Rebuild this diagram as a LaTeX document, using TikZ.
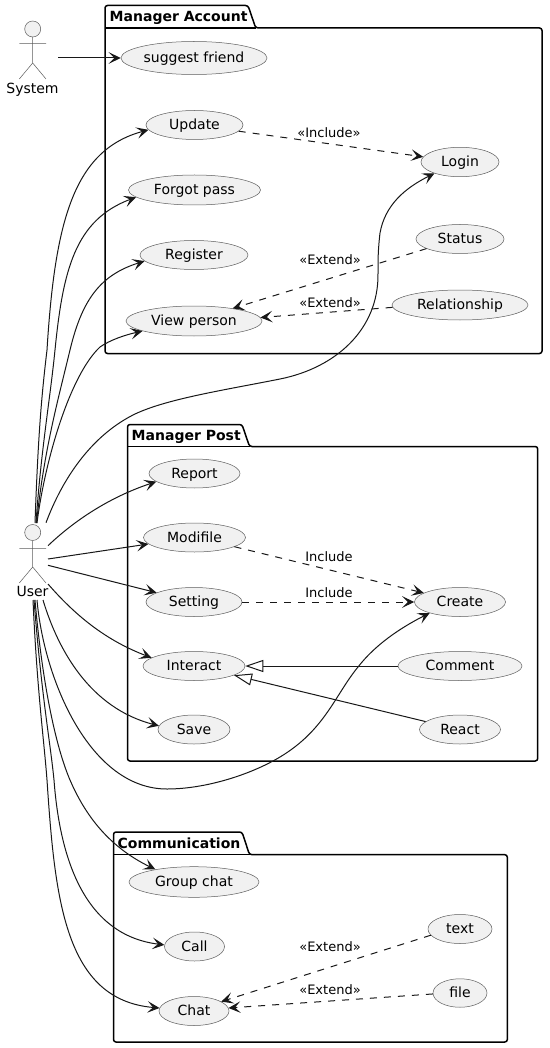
\documentclass[tikz,border=0pt]{standalone}
\usepackage{fontspec}
\setmainfont{DejaVu Sans}
\usetikzlibrary{arrows.meta,shapes.geometric}
\definecolor{ink}{HTML}{181818}
\definecolor{ucfill}{HTML}{F1F1F1}
\tikzset{
  x=1pt,y=-1pt,
  uc/.style 2 args={draw=ink!70,line width=0.5pt,fill=ucfill,shape=ellipse,inner sep=0pt,minimum width=#1pt,minimum height=#2pt,text height=12.6pt,text depth=3pt,font=\fontsize{14}{16}\selectfont},
  pkg/.style={draw=black,line width=1.5pt,rounded corners=2.5pt},
  pkgname/.style={anchor=base west,inner sep=0pt,font=\fontsize{14}{16}\selectfont\bfseries},
  lbl/.style={inner sep=0pt,font=\fontsize{13}{15}\selectfont,text height=11.5pt,text depth=3pt},
  actorname/.style={inner sep=0pt,font=\fontsize{14}{16}\selectfont,text height=12.6pt,text depth=3pt},
  head/.style={draw=ink!70,line width=0.5pt,fill=ucfill,circle,minimum size=16pt,inner sep=0pt},
  limb/.style={draw=ink!70,line width=0.5pt},
  arr/.style={draw=ink,line width=1pt,-{Stealth[length=12pt,width=11.5pt,inset=5.5pt]}},
  dep/.style={draw=ink,line width=1pt,dash pattern=on 7pt off 7pt,-{Stealth[length=12pt,width=11.5pt,inset=5.5pt]}},
  isa/.style={draw=ink,line width=1pt,-{Triangle[open,length=18pt,width=12pt,fill=white]}}
}
\begin{document}
\begin{tikzpicture}
\useasboundingbox[fill=white] (0,0) rectangle (549,1048);
% packages
\draw[pkg] (105,28) -- (105,5.5) -- (248,5.5) -- (255.7,28) -- (542,28) -- (542,353.5) -- (105,353.5) -- cycle;
\draw[line width=1.5pt] (105,28) -- (255.7,28);
\node[pkgname] (pa) at (109.5,21.5) {Manager Account};
\draw[pkg] (127.5,446.5) -- (127.5,424.5) -- (242,424.5) -- (249.5,446.5) -- (537.7,446.5) -- (537.7,761) -- (127.5,761) -- cycle;
\draw[line width=1.5pt] (127.5,446.5) -- (249.5,446.5);
\node[pkgname] (pb) at (131.5,440.5) {Manager Post};
\draw[pkg] (113.5,854.7) -- (113.5,832) -- (242,832) -- (249.5,854.7) -- (507.3,854.7) -- (507.3,1042) -- (113.5,1042) -- cycle;
\draw[line width=1.5pt] (113.5,854.7) -- (249.5,854.7);
\node[pkgname] (pc) at (117.5,848.5) {Communication};
% use cases
\node[uc={146}{33}] (suggest) at (194,58) {suggest friend};
\node[uc={97}{29}] (update) at (194.5,125) {Update};
\node[uc={132}{30}] (forgot) at (194.5,190) {Forgot pass};
\node[uc={108}{29}] (register) at (194,255) {Register};
\node[uc={136}{30}] (view) at (194,321) {View person};
\node[uc={78}{29.4}] (login) at (460,162) {Login};
\node[uc={88}{29}] (status) at (460,239) {Status};
\node[uc={136}{30}] (relation) at (460,305) {Relationship};
\node[uc={91}{29}] (report) at (194.5,473.5) {Report};
\node[uc={102}{29}] (modifile) at (194.5,537.5) {Modifile};
\node[uc={96}{29}] (setting) at (194,602) {Setting};
\node[uc={102}{29}] (interact) at (194,666) {Interact};
\node[uc={72}{29}] (save) at (194,729.5) {Save};
\node[uc={91}{29}] (create) at (460,602) {Create};
\node[uc={124}{29}] (comment) at (460,666) {Comment};
\node[uc={81}{29}] (react) at (460,729.5) {React};
\node[uc={130}{30.6}] (group) at (194,882) {Group chat};
\node[uc={60}{29}] (call) at (194.5,946.5) {Call};
\node[uc={70}{29}] (chat) at (194,1011) {Chat};
\node[uc={64}{29}] (text) at (460,929) {text};
\node[uc={54}{28.5}] (file) at (460,993) {file};
% actors
\node[head] (syshead) at (32.7,29) {};
\draw[limb] (syshead.south) -- (32.7,63) -- (19.3,79) (32.7,63) -- (46,79) (19.3,43.7) -- (46,43.7);
\node[actorname] (system) at (32.5,88.5) {System};
\node[head] (userhead) at (32.7,532.5) {};
\draw[limb] (userhead.south) -- (32.7,567) -- (19.3,583) (32.7,567) -- (46,583) (19.3,548.3) -- (46,548.3);
\node[actorname] (user) at (32.5,592) {User};
% free ends at the actors
\coordinate (sysout) at (58,58);
\foreach \n/\px/\py in {ua/35/523,ub/36/523,uc/36.5/523,ud/37/523,ue/46/522.7,uf/48/545.7,ug/48/559,uh/48/565.3,ui/48/584,uj/43/600,uk/37/600,ul/35/600,um/34/600,un/33/600}
  \coordinate (\n) at (\px,\py);
% solid associations
\draw[arr] (sysout) -- (suggest);
\draw[arr] (ua) .. controls (38,440) and (41,400) .. (47,350) .. controls (55,220) and (74,150) .. (update.186);
\draw[arr] (ub) .. controls (41,450) and (50,400) .. (55,350) .. controls (63,270) and (75,220) .. (forgot.187);
\draw[arr] (uc) .. controls (44,450) and (58,400) .. (70,350) .. controls (82,300) and (100,275) .. (register.187);
\draw[arr] (ud) .. controls (45,460) and (70,375) .. (100,347) .. controls (110,340) and (125,335) .. (view.191);
\draw[arr] (ue) .. controls (62,480) and (90,437) .. (133,415) .. controls (165,399) and (225,390) .. (280,379) .. controls (335,368) and (379,330) .. (378,273) .. controls (378,260) and (378,250) .. (380,233) .. controls (385,205) and (405,188) .. (login.204);
\draw[arr] (uf) .. controls (75,520) and (110,497) .. (report.192);
\draw[arr] (ug) -- (modifile.188);
\draw[arr] (uh) -- (setting.166);
\draw[arr] (ui) .. controls (75,615) and (105,640) .. (interact.169);
\draw[arr] (uj) .. controls (58,650) and (90,708) .. (save.174);
\draw[arr] (uk) .. controls (44,680) and (90,789) .. (167,789) .. controls (205,789) and (250,775) .. (280,757) .. controls (325,730) and (335,695) .. (358,667) .. controls (375,645) and (400,628) .. (create.200);
\draw[arr] (ul) .. controls (42,680) and (55,745) .. (70,780) .. controls (83,810) and (105,845) .. (group.162);
\draw[arr] (um) .. controls (42,700) and (50,740) .. (54,780) .. controls (60,860) and (85,935) .. (call.177);
\draw[arr] (un) .. controls (37,690) and (44,740) .. (47,780) .. controls (55,900) and (65,1000) .. (chat.175);
% dashed relations
\draw[dep] (update.-8) -- (login.172);
\node[lbl] (l1) at (329,133) {«Include»};
\draw[dep] (status.196) -- (view.18);
\node[lbl] (l2) at (330,260.7) {«Extend»};
\draw[dep] (relation.182.5) -- (view.3.4);
\node[lbl] (l3) at (330,303) {«Extend»};
\draw[dep] (modifile.-13) -- (create.166);
\node[lbl] (l4) at (329,557) {Include};
\draw[dep] (setting.0) -- (create.180);
\node[lbl] (l5) at (329,593) {Include};
\draw[dep] (text.192) -- (chat.19.6);
\node[lbl] (l6) at (330,947.7) {«Extend»};
\draw[dep] (file.182) -- (chat.5);
\node[lbl] (l7) at (330,990.7) {«Extend»};
% generalisations
\draw[isa] (comment.180) -- (interact.0);
\draw[isa] (react.167) -- (interact.-13);
\end{tikzpicture}
\end{document}
